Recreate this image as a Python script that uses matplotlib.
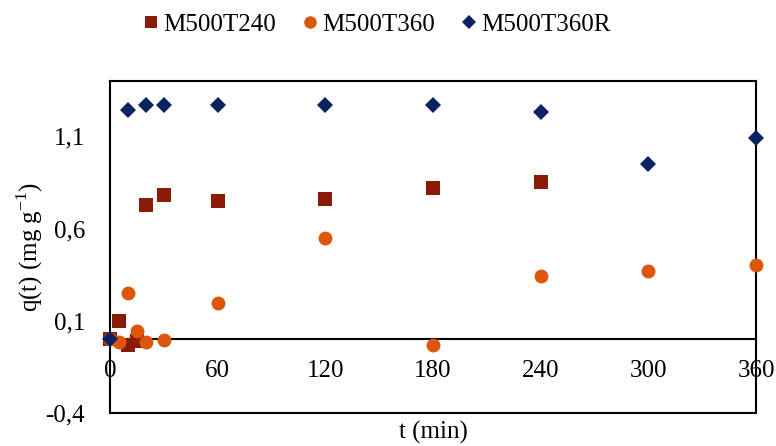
import matplotlib
matplotlib.use("Agg")
import matplotlib.pyplot as plt

plt.rcParams['font.family'] = ['Liberation Serif', 'DejaVu Serif']
plt.rcParams['mathtext.fontset'] = 'custom'
plt.rcParams['mathtext.rm'] = 'Liberation Serif'

t_240 = [0, 5, 10, 15, 20, 30, 60, 120, 180, 240]
q_240 = [0.0, 0.10, -0.03, -0.01, 0.726, 0.782, 0.747, 0.762, 0.822, 0.85]

t_360 = [0, 5, 10, 15, 20, 30, 60, 120, 180, 240, 300, 360]
q_360 = [0.0, -0.015, 0.25, 0.043, -0.017, -0.005, 0.197, 0.549, -0.03, 0.34, 0.37, 0.40]

t_360R = [0, 10, 20, 30, 60, 120, 180, 240, 300, 360]
q_360R = [0.0, 1.24, 1.27, 1.27, 1.27, 1.27, 1.27, 1.23, 0.95, 1.093]

x_ticks = [0, 60, 120, 180, 240, 300, 360]
y_ticks = [-0.4, 0.1, 0.6, 1.1]
y_tick_labels = ['-0,4', '0,1', '0,6', '1,1']

fig = plt.figure(figsize=(7.76, 4.46), dpi=100)
ax = fig.add_axes([0.1418, 0.074, 0.8325, 0.7445])

ax.plot(t_240, q_240, 's', color='#8B1A06', ms=9.5, mew=0, label='M500T240', clip_on=False, zorder=3)
ax.plot(t_360, q_360, 'o', color='#DC560B', ms=10, mew=0, label='M500T360', clip_on=False, zorder=3)
ax.plot(t_360R, q_360R, 'D', color='#0A2260', ms=8.3, mew=0, label='M500T360R', clip_on=False, zorder=4)

ax.set_xlim(0, 360)
ax.set_ylim(-0.4, 1.4)
ax.set_xticks(x_ticks)
ax.set_xticklabels([str(v) for v in x_ticks])
ax.set_yticks(y_ticks)
ax.set_yticklabels(y_tick_labels)

for s in ['left', 'right', 'top', 'bottom']:
    ax.spines[s].set_linewidth(1.5)
    ax.spines[s].set_color('black')
ax.spines['bottom'].set_position(('data', 0))
ax.axhline(-0.4, color='black', lw=1.5, clip_on=False, zorder=5)

ax.tick_params(axis='both', length=0, labelsize=18)
ax.tick_params(axis='x', pad=15)
ax.tick_params(axis='y', pad=18)

ax.set_xlabel('t (min)', fontsize=18)
ax.xaxis.set_label_coords(0.5, -0.025)
ax.set_ylabel('q(t) (mg g$^{\\mathregular{-1}}$)', fontsize=18)
ax.yaxis.set_label_coords(-0.1, 0.5)

fig.legend(loc='center', bbox_to_anchor=(0.483, 0.944), ncol=3, frameon=False,
           fontsize=18, handletextpad=0.0, columnspacing=0.85, handlelength=1.0,
           markerscale=0.9)

fig.savefig('out.png', dpi=100)
